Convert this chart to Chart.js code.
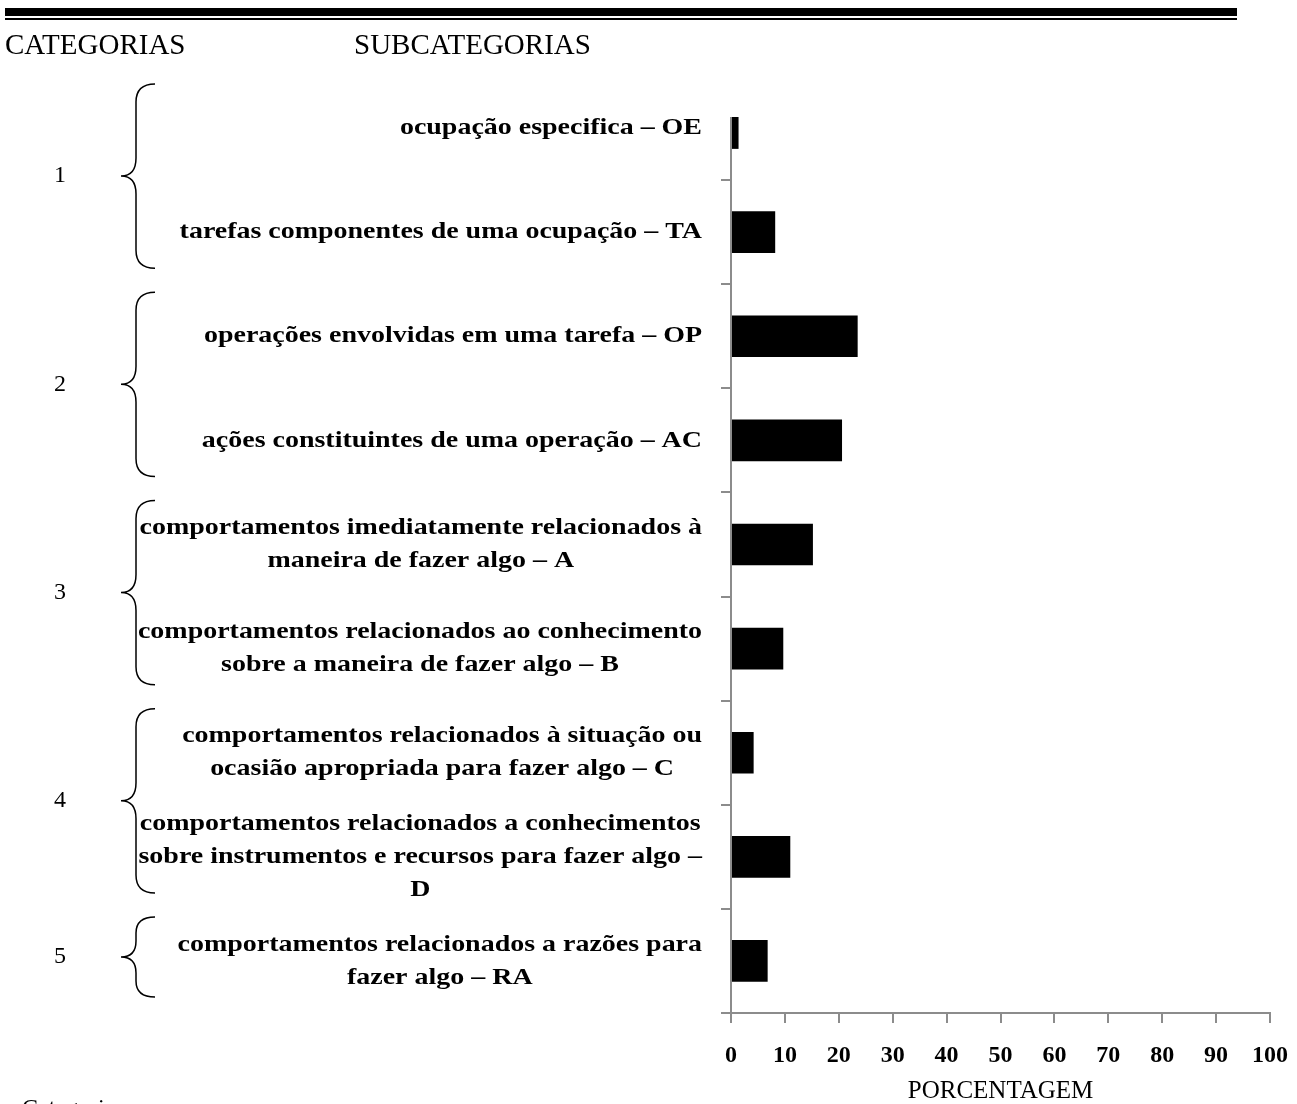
<!DOCTYPE html>
<html>
<head>
<meta charset="utf-8">
<script src="https://cdn.jsdelivr.net/npm/chart.js@4.4.1/dist/chart.umd.min.js"></script>
<style>
  body { margin: 0; background: #fff; }
  #wrap { position: relative; width: 1297px; height: 1104px; overflow: hidden; }
</style>
</head>
<body>
<div id="wrap"><canvas id="grafico"></canvas></div>
<script>
// subcategorias (eixo vertical), de cima para baixo
const subcategorias = [
    'ocupação especifica – OE',
    'tarefas componentes de uma ocupação – TA',
    'operações envolvidas em uma tarefa – OP',
    'ações constituintes de uma operação – AC',
    ['comportamentos imediatamente relacionados à', 'maneira de fazer algo – A'],
    ['comportamentos relacionados ao conhecimento', 'sobre a maneira de fazer algo – B'],
    ['comportamentos relacionados à situação ou', 'ocasião apropriada para fazer algo – C'],
    ['comportamentos relacionados a conhecimentos', 'sobre instrumentos e recursos para fazer algo –', 'D'],
    ['comportamentos relacionados a razões para', 'fazer algo – RA']
];
const porcentagens = [1.4, 8.2, 23.5, 20.6, 15.2, 9.7, 4.2, 11.0, 6.8];

// categorias e as subcategorias que cada uma agrupa
const categorias = ['1', '2', '3', '4', '5'];
const grupoInicio = [0, 2, 4, 6, 8];
const grupoFim = [1, 3, 5, 7, 8];

const eixoMin = 0;
const eixoMax = 100;
const eixoPasso = 10;

const cinza = '#8c8c8c';
const serif = 'Liberation Serif, Times New Roman, serif';
const recorteTopo = 41;   // o eixo vertical começa abaixo do topo da área
const esticar = 1.165;    // rótulos das subcategorias são mais largos

const decoracao = {
    id: 'decoracao',
    afterDraw(chart) {
        const ctx = chart.ctx;
        const area = chart.chartArea;
        const xs = chart.scales.x;
        const ys = chart.scales.y;
        ctx.save();

        // filetes do cabeçalho
        ctx.fillStyle = '#000';
        ctx.fillRect(5, 8, 1232, 8);
        ctx.fillRect(5, 18, 1232, 2);

        ctx.font = '29px ' + serif;
        ctx.textBaseline = 'alphabetic';
        ctx.textAlign = 'left';
        ctx.fillText('CATEGORIAS', 5, 54);
        ctx.fillText('SUBCATEGORIAS', 354, 54);
        ctx.font = '24px ' + serif;
        ctx.fillText('Categorias', 22, 1115);

        // eixo vertical
        const x0 = xs.getPixelForValue(eixoMin);
        ctx.strokeStyle = cinza;
        ctx.lineWidth = 2;
        ctx.beginPath();
        ctx.moveTo(x0, area.top + recorteTopo);
        ctx.lineTo(x0, area.bottom);
        ctx.stroke();

        // rótulos das subcategorias: bloco alinhado à direita, linhas centradas
        const linhaAlt = 33;
        const direita = x0 - 29;
        ctx.fillStyle = '#000';
        ctx.font = 'bold 24px ' + serif;
        ctx.textAlign = 'center';
        ctx.textBaseline = 'middle';
        subcategorias.forEach((rot, i) => {
            const linhas = Array.isArray(rot) ? rot : [rot];
            const cy = ys.getPixelForValue(i);
            let larg = 0;
            linhas.forEach(l => { larg = Math.max(larg, ctx.measureText(l).width * esticar); });
            const cx = direita - larg / 2;
            linhas.forEach((l, k) => {
                const y = cy + (k - (linhas.length - 1) / 2) * linhaAlt;
                ctx.save();
                ctx.translate(cx, y);
                ctx.scale(esticar, 1);
                ctx.fillText(l, 0, 0);
                ctx.restore();
            });
        });

        // chaves e números das categorias
        const faixa = ys.getPixelForValue(1) - ys.getPixelForValue(0);
        ctx.strokeStyle = '#000';
        ctx.lineWidth = 1.5;
        ctx.font = '24px ' + serif;
        categorias.forEach((c, g) => {
            const y1 = ys.getPixelForValue(grupoInicio[g]) - faixa / 2 + 8;
            const y2 = ys.getPixelForValue(grupoFim[g]) + faixa / 2 - 16;
            const ym = (y1 + y2) / 2;
            const r = Math.min(18, (y2 - y1) / 5);
            ctx.beginPath();
            ctx.moveTo(155, y1);
            ctx.quadraticCurveTo(136, y1, 136, y1 + r);
            ctx.lineTo(136, ym - r);
            ctx.quadraticCurveTo(136, ym, 121, ym);
            ctx.quadraticCurveTo(136, ym, 136, ym + r);
            ctx.lineTo(136, y2 - r);
            ctx.quadraticCurveTo(136, y2, 155, y2);
            ctx.stroke();
            ctx.fillText(c, 60, ym);
        });

        ctx.restore();
    }
};

new Chart(document.getElementById('grafico'), {
    type: 'bar',
    data: {
        labels: subcategorias,
        datasets: [{
            data: porcentagens,
            backgroundColor: '#000',
            borderWidth: 0,
            barPercentage: 0.4,
            categoryPercentage: 1,
            clip: { left: 5, top: -recorteTopo, right: 5, bottom: 5 }
        }]
    },
    options: {
        indexAxis: 'y',
        responsive: true,
        maintainAspectRatio: false,
        animation: false,
        layout: { padding: { top: 76, right: 27, left: 0, bottom: 0 } },
        plugins: {
            legend: { display: false },
            tooltip: { enabled: false }
        },
        scales: {
            x: {
                type: 'linear',
                min: eixoMin,
                max: eixoMax,
                ticks: {
                    stepSize: eixoPasso,
                    color: '#000',
                    padding: 18,
                    maxRotation: 0,
                    autoSkip: false,
                    font: { family: serif, size: 24, weight: 'bold' }
                },
                grid: { drawOnChartArea: false, drawTicks: true, tickLength: 10, color: cinza, lineWidth: 2 },
                border: { display: true, color: cinza, width: 2 },
                title: {
                    display: true,
                    text: 'PORCENTAGEM',
                    color: '#000',
                    padding: 0,
                    font: { family: serif, size: 25, lineHeight: 1 }
                },
                afterFit(s) {
                    s.height = 91;
                    s.paddingLeft = 0;
                    s.paddingRight = 0;
                }
            },
            y: {
                type: 'category',
                ticks: { display: false },
                grid: {
                    drawOnChartArea: false,
                    drawTicks: true,
                    tickLength: 10,
                    lineWidth: 2,
                    color: c => c.index === 0 ? 'rgba(0,0,0,0)' : cinza
                },
                border: { display: false },
                afterFit(s) { s.width = 731; }
            }
        }
    },
    plugins: [decoracao]
});
</script>
</body>
</html>
